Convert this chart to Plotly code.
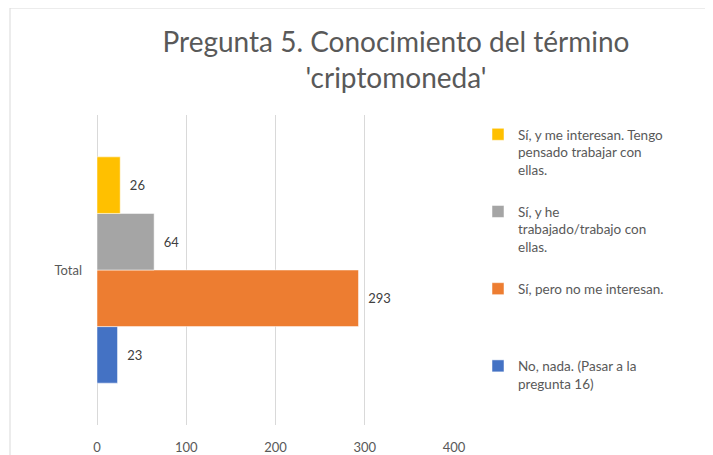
import plotly.graph_objects as go

# data
CATEGORY = ["Total"]
SERIES = [
    "No, nada. (Pasar a la<br>pregunta 16)",
    "Sí, pero no me interesan.",
    "Sí, y he<br>trabajado/trabajo con<br>ellas.",
    "Sí, y me interesan. Tengo<br>pensado trabajar con<br>ellas.",
]
VALUES = [23, 293, 64, 26]
COLORS = ["#4472C4", "#ED7D31", "#A5A5A5", "#FFC000"]
X_TICKS = [0, 100, 200, 300, 400]

# page body has an 8px margin, so the figure is drawn 8px in from the corner
W, H = 705, 447
TEXT = "#595959"
GRID = "#D9D9D9"
FONT = "Lato, sans-serif"

# plot area in figure pixels
L, R, T, B = 89, 446, 107, 417


def pad_lines(label, n=4):
    lines = label.count("<br>") + 1
    return label + "<br>&nbsp;" * (n - lines)


fig = go.Figure()
for i, (name, val, color) in enumerate(zip(SERIES, VALUES, COLORS)):
    fig.add_trace(go.Bar(
        y=CATEGORY, x=[val], orientation="h",
        name=pad_lines(name), legendgroup=name, legendrank=len(SERIES) - i,
        marker=dict(color=color, line=dict(color="white", width=0.5)),
        text=[val], texttemplate="  %{x}", textposition="outside",
        textfont=dict(size=13, color="#404040", family=FONT),
        cliponaxis=False,
    ))

px_x = lambda p: (p - L) / (R - L)
px_y = lambda p: (B - p) / (B - T)

fig.update_layout(
    width=W, height=H,
    margin=dict(l=L, r=W - R, t=T, b=H - B, autoexpand=False),
    paper_bgcolor="white", plot_bgcolor="white",
    font=dict(family=FONT, color=TEXT),
    barmode="group", bargap=0.27, bargroupgap=0,
    title=dict(
        text="Pregunta 5. Conocimiento del término<br>'criptomoneda'",
        xref="container", x=388 / W, xanchor="center",
        yref="container", y=1 - 44 / H, yanchor="top",
        font=dict(size=28, color=TEXT, family=FONT),
    ),
    legend=dict(
        traceorder="grouped", valign="top",
        xref="container", yref="container",
        x=470 / W, xanchor="left", y=1 - 111 / H, yanchor="top",
        font=dict(size=13.5, color=TEXT, family=FONT),
        tracegroupgap=4, itemwidth=30, maxheight=440,
    ),
    shapes=[dict(
        type="rect", xref="paper", yref="paper",
        x0=px_x(2), x1=px_x(730), y0=px_y(470), y1=px_y(0),
        line=dict(color=GRID, width=1), layer="below",
    )],
)

fig.update_xaxes(
    range=[0, 400], tickvals=X_TICKS, showgrid=True, gridcolor=GRID, gridwidth=1,
    zeroline=True, zerolinecolor=GRID, zerolinewidth=1, showline=False,
    tickfont=dict(size=13, color=TEXT), ticklabelstandoff=13, automargin=False,
)
fig.update_yaxes(
    showgrid=False, zeroline=False, showline=False,
    tickfont=dict(size=13, color=TEXT), ticklabelstandoff=14, automargin=False,
)

fig.write_html("out.html")
